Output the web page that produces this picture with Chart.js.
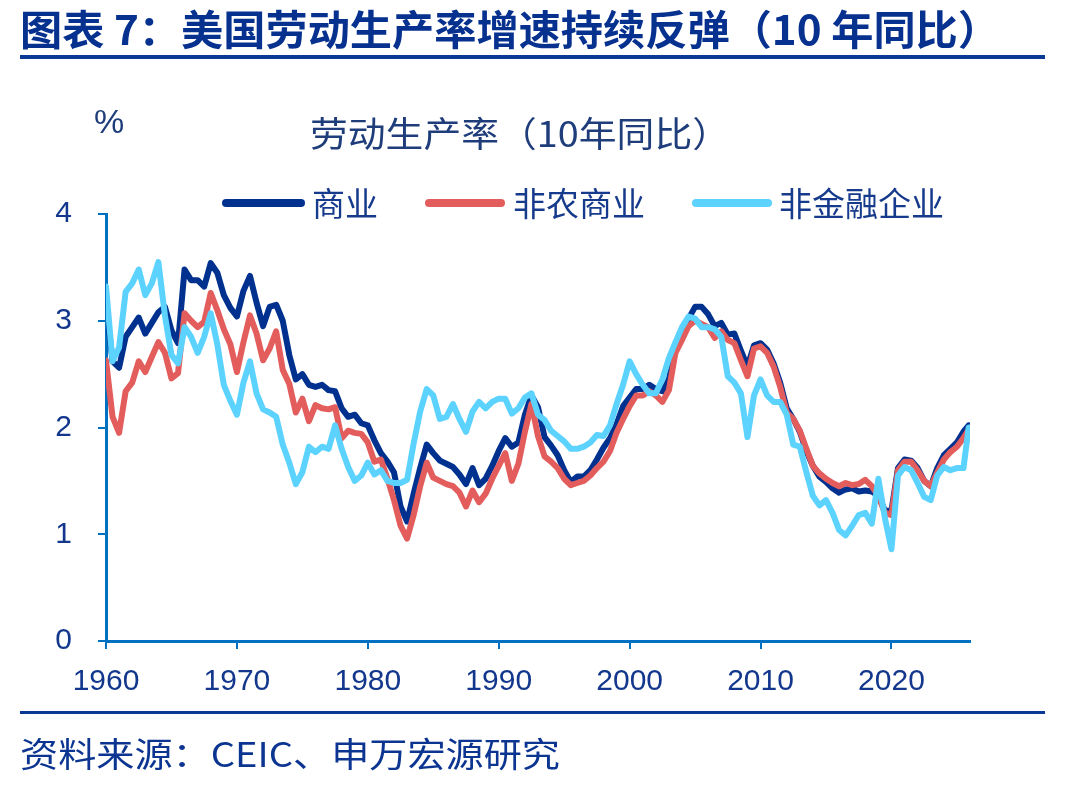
<!DOCTYPE html>
<html>
<head>
<meta charset="utf-8">
<script src="https://cdn.jsdelivr.net/npm/chart.js@4/dist/chart.umd.min.js"></script>
<style>
  body { margin: 0; background: #fff; width: 1092px; height: 787px; position: relative; overflow: hidden; font-family: "Noto Sans CJK SC", sans-serif; }
  canvas { position: absolute; left: 0; top: 0; }
  .txt { position: absolute; white-space: nowrap; line-height: 1; transform-origin: 0 0; }
  #title { left: 20px; top: 7px; font-size: 41px; font-weight: bold; color: #06318F; }
  #subtitle { left: 310px; top: 114px; font-size: 35px; color: #1F3D7A; }
  #unit { left: 94px; top: 104px; font-size: 34px; color: #1F3D7A; font-family: "Liberation Sans", Arial, sans-serif; }
  #source { left: 20px; top: 736px; font-size: 34px; color: #0B3591; }
  .rule { position: absolute; left: 20px; width: 1025px; background: #0B3A96; }
  .leg { position: absolute; height: 8px; border-radius: 4px; }
  .legtxt { position: absolute; top: 186px; font-size: 33px; line-height: 1; color: #173B8C; white-space: nowrap; }
</style>
</head>
<body>
<canvas id="chart" width="1092" height="787"></canvas>
<div id="title" class="txt">图表 7：美国劳动生产率增速持续反弹（10 年同比）</div>
<div class="rule" style="top:55px;height:4px"></div>
<div id="unit" class="txt">%</div>
<div id="subtitle" class="txt">劳动生产率（10年同比）</div>
<div class="leg" style="left:222px;top:199px;width:83px;background:#00318F"></div>
<div class="legtxt" style="left:312px">商业</div>
<div class="leg" style="left:425px;top:199px;width:80px;background:#E35D5D"></div>
<div class="legtxt" style="left:513px">非农商业</div>
<div class="leg" style="left:692px;top:199px;width:80px;background:#5CD2FF"></div>
<div class="legtxt" style="left:779px">非金融企业</div>
<div class="rule" style="top:711px;height:3px"></div>
<div id="source" class="txt">资料来源：CEIC、申万宏源研究</div>

<script>
//HALF-YEAR SAMPLES, 1960 - 2025
const years = []
for (let i = 0; i < 132; i++) years.push(1960 + i / 2)
years.push(2025.9)

const seriesNames = ['商业', '非农商业', '非金融企业']

//商业
const business = [
  3.17,2.62,2.56,2.85,2.94,3.03,2.88,2.98,3.08,3.13, 2.91,2.79,3.48,3.38,3.38,3.32,3.54,3.45,3.24,3.12,
  3.04,3.28,3.42,3.17,2.95,3.13,3.15,3.00,2.68,2.45, 2.50,2.40,2.38,2.40,2.35,2.34,2.18,2.10,2.12,2.04,
  2.02,1.88,1.76,1.68,1.58,1.26,1.12,1.38,1.62,1.84, 1.76,1.69,1.66,1.63,1.56,1.47,1.62,1.46,1.52,1.64,
  1.78,1.90,1.82,1.86,2.12,2.30,2.19,1.91,1.83,1.74, 1.60,1.49,1.54,1.54,1.60,1.70,1.81,1.90,2.03,2.20,
  2.28,2.36,2.36,2.40,2.36,2.34,2.45,2.75,2.90,3.02, 3.13,3.13,3.06,2.95,2.98,2.87,2.88,2.72,2.57,2.77,
  2.79,2.73,2.60,2.42,2.18,2.08,1.96,1.78,1.64,1.54, 1.49,1.43,1.39,1.42,1.43,1.40,1.41,1.40,1.36,1.22,
  1.22,1.62,1.70,1.69,1.62,1.50,1.45,1.62,1.74,1.80, 1.86,1.96,2.02
]
//非农商业
const nonfarm = [
  2.63,2.10,1.95,2.34,2.42,2.62,2.52,2.66,2.80,2.70, 2.46,2.51,3.07,3.00,2.94,2.99,3.26,3.10,2.92,2.78,
  2.52,2.80,3.05,2.88,2.63,2.74,2.90,2.54,2.41,2.14, 2.27,2.06,2.21,2.18,2.17,2.19,1.90,1.97,1.95,1.94,
  1.86,1.68,1.70,1.52,1.32,1.08,0.96,1.18,1.45,1.67, 1.53,1.50,1.47,1.45,1.39,1.26,1.41,1.30,1.38,1.52,
  1.64,1.76,1.50,1.66,1.96,2.22,1.92,1.73,1.68,1.62, 1.52,1.46,1.48,1.50,1.55,1.62,1.68,1.78,1.95,2.08,
  2.20,2.30,2.30,2.34,2.30,2.24,2.35,2.70,2.82,2.95, 3.00,2.97,2.94,2.84,2.90,2.82,2.79,2.63,2.48,2.74,
  2.76,2.70,2.57,2.38,2.14,2.08,1.97,1.80,1.64,1.57, 1.52,1.48,1.45,1.48,1.46,1.47,1.51,1.45,1.36,1.20,
  1.18,1.60,1.68,1.68,1.60,1.50,1.45,1.58,1.70,1.77, 1.82,1.90,1.98
]
//非金融企业
const nonfinancial = [
  3.32,2.62,2.75,3.27,3.35,3.48,3.24,3.35,3.55,3.05, 2.68,2.60,2.94,2.85,2.70,2.85,3.07,2.78,2.40,2.25,
  2.12,2.42,2.62,2.32,2.17,2.14,2.10,1.84,1.67,1.47, 1.58,1.82,1.77,1.82,1.80,2.02,1.80,1.63,1.50,1.55,
  1.67,1.56,1.60,1.50,1.48,1.48,1.51,1.85,2.15,2.36, 2.30,2.08,2.10,2.22,2.08,1.96,2.15,2.24,2.18,2.24,
  2.27,2.27,2.13,2.18,2.28,2.32,2.12,2.07,1.97,1.92, 1.87,1.80,1.80,1.82,1.86,1.93,1.92,2.02,2.22,2.40,
  2.62,2.50,2.40,2.32,2.32,2.45,2.65,2.80,2.94,3.04, 3.02,2.94,2.94,2.92,2.85,2.48,2.42,2.32,1.91,2.30,
  2.45,2.30,2.24,2.24,2.12,1.84,1.82,1.58,1.36,1.27, 1.32,1.20,1.04,0.99,1.08,1.18,1.20,1.10,1.52,1.15,
  0.86,1.55,1.63,1.60,1.48,1.35,1.32,1.55,1.63,1.60, 1.62,1.62,2.00
]

const xTicks = [1960, 1970, 1980, 1990, 2000, 2010, 2020]
const yTicks = [0, 1, 2, 3, 4]

const AXIS = '#0070C0'
const LABEL = '#12378C'

function toPoints(pValues) {
  return pValues.map((v, i) => ({ x: years[i], y: v }))
}

function lineSet(pLabel, pValues, pColor, pOrder) {
  return {
    label: pLabel,
    data: toPoints(pValues),
    borderColor: pColor,
    borderWidth: 6,
    borderJoinStyle: 'round',
    borderCapStyle: 'round',
    pointRadius: 0,
    tension: 0,
    fill: false,
    order: pOrder
  }
}

//SQUEEZE A TEXT BLOCK TO A GIVEN WIDTH
function fitWidth(pId, pWidth) {
  const el = document.getElementById(pId)
  const w = el.getBoundingClientRect().width
  el.style.transform = `scaleX(${pWidth / w})`
}

function drawChart() {
  const ctx = document.getElementById('chart')
  new Chart(ctx, {
    type: 'line',
    data: {
      datasets: [
        lineSet(seriesNames[0], business, '#00318F', 3),
        lineSet(seriesNames[1], nonfarm, '#E35D5D', 2),
        lineSet(seriesNames[2], nonfinancial, '#5CD2FF', 1)
      ]
    },
    options: {
      responsive: false,
      animation: false,
      layout: { padding: { left: 46, right: 122, top: 214, bottom: 86 }, autoPadding: false },
      plugins: { legend: { display: false }, tooltip: { enabled: false } },
      scales: {
        x: {
          type: 'linear',
          min: 1960,
          max: 2026,
          afterFit: (s) => { s.height = 60 },
          afterBuildTicks: (s) => { s.ticks = xTicks.map(v => ({ value: v })) },
          border: { color: AXIS, width: 3 },
          grid: { drawOnChartArea: false, tickLength: 8, color: AXIS, lineWidth: 2 },
          ticks: {
            maxRotation: 0,
            autoSkip: false,
            padding: 15,
            color: LABEL,
            font: { family: '"Liberation Sans", Arial, sans-serif', size: 30 },
            callback: (v) => String(v)
          }
        },
        y: {
          min: 0,
          max: 4,
          afterFit: (s) => { s.width = 60 },
          afterBuildTicks: (s) => { s.ticks = yTicks.map(v => ({ value: v })) },
          border: { color: AXIS, width: 3 },
          grid: { drawOnChartArea: false, tickLength: 8, color: AXIS, lineWidth: 2 },
          ticks: {
            padding: 26,
            color: LABEL,
            font: { family: '"Liberation Sans", Arial, sans-serif', size: 30 }
          }
        }
      }
    }
  })
}

document.addEventListener('DOMContentLoaded', () => {
  fitWidth('title', 980)
  fitWidth('subtitle', 420)
  fitWidth('source', 540)
  drawChart()
})
</script>
</body>
</html>
